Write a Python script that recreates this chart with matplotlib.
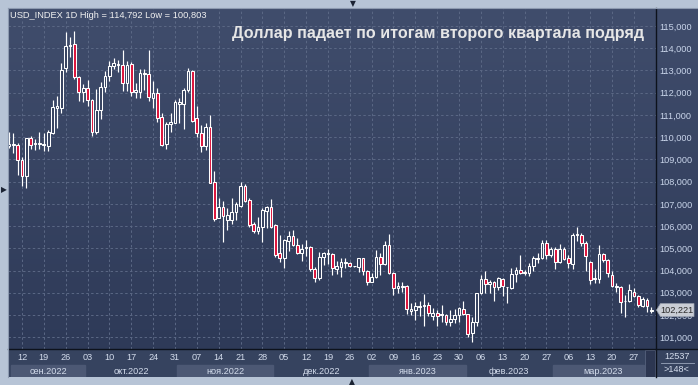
"""USD index daily candles, Sep 2022 - Mar 2023, terminal-style dark chart."""

import matplotlib

matplotlib.use("Agg")
import matplotlib.pyplot as plt
from matplotlib.lines import Line2D
from matplotlib.patches import Polygon, Rectangle
import numpy as np
import pandas as pd

plt.rcParams["font.family"] = ["Liberation Sans", "DejaVu Sans"]

# trading days shown on the chart (148 bars, ">148<" in the corner)
DATES = pd.bdate_range("2022-09-07", "2023-03-31")

OPEN = [109.62, 109.63, 109.66, 108.97, 108.27, 109.95, 109.70, 109.70, 109.64, 109.62,
        110.20, 111.33, 111.30, 113.10, 114.11, 114.19, 112.72, 112.02, 112.20, 111.67,
        110.22, 111.22, 112.27, 112.77, 113.22, 113.25, 113.25, 112.42, 113.28, 112.05,
        112.02, 112.87, 112.83, 111.75, 111.97, 110.89, 109.68, 110.58, 110.62, 111.51,
        111.51, 112.11, 112.98, 110.88, 110.17, 109.62, 110.47, 107.97, 106.38, 106.84,
        106.27, 106.27, 106.65, 106.92, 107.82, 107.17, 106.08, 105.79, 105.97, 106.69,
        106.84, 106.05, 104.77, 104.55, 105.33, 105.57, 105.15, 104.77, 105.00, 105.07,
        104.07, 103.65, 104.62, 104.73, 104.73, 104.05, 104.17, 104.32, 104.32, 104.20,
        104.17, 104.55, 103.99, 103.50, 103.72, 104.62, 104.28, 105.15, 103.87, 103.20,
        103.27, 103.30, 102.18, 102.21, 102.37, 102.40, 102.45, 101.97, 102.07, 102.04,
        102.00, 101.70, 101.80, 102.00, 102.25, 102.03, 101.17, 101.70, 103.00, 103.60,
        103.38, 103.47, 103.27, 103.60, 103.26, 103.20, 103.84, 104.02, 103.90, 103.87,
        104.20, 104.52, 104.55, 105.25, 104.70, 104.95, 104.40, 104.95, 104.55, 104.29,
        105.60, 105.60, 105.25, 104.40, 103.60, 103.60, 104.74, 104.47, 103.80, 103.27,
        103.24, 102.62, 102.64, 103.05, 102.85, 102.42, 102.67, 102.20]
HIGH = [110.25, 110.20, 109.72, 109.12, 109.97, 110.07, 109.92, 110.25, 110.17, 110.32,
        111.67, 111.87, 113.32, 114.71, 114.49, 114.79, 112.77, 112.39, 112.57, 111.72,
        112.17, 112.47, 112.99, 113.44, 113.56, 113.45, 113.90, 113.43, 113.37, 112.42,
        113.07, 113.07, 113.90, 112.53, 112.20, 111.07, 110.70, 111.07, 111.67, 111.75,
        112.20, 113.13, 113.02, 111.40, 110.55, 110.62, 111.00, 108.48, 107.25, 107.13,
        106.80, 107.25, 107.10, 108.00, 107.88, 107.25, 106.20, 106.42, 106.80, 106.92,
        107.22, 106.08, 105.60, 105.42, 105.78, 105.82, 105.48, 105.18, 105.37, 105.12,
        104.17, 104.82, 104.82, 104.97, 104.77, 104.43, 104.58, 104.55, 104.37, 104.22,
        104.56, 104.57, 104.02, 103.87, 104.92, 104.77, 105.33, 105.63, 103.92, 103.47,
        103.50, 103.35, 102.52, 102.60, 102.63, 102.94, 102.57, 102.30, 102.22, 102.45,
        102.04, 102.22, 102.25, 102.35, 102.64, 102.04, 101.92, 103.00, 103.80, 103.98,
        103.57, 103.53, 103.72, 103.65, 103.28, 104.10, 104.14, 104.70, 104.02, 104.32,
        104.65, 104.77, 105.37, 105.37, 105.07, 105.04, 105.19, 105.04, 104.70, 105.67,
        105.94, 105.67, 105.34, 104.44, 104.05, 105.15, 104.80, 104.50, 103.99, 103.42,
        103.30, 102.90, 103.39, 103.23, 102.88, 102.79, 102.75, 102.35]
LOW = [109.53, 109.27, 108.30, 107.81, 107.70, 109.47, 109.42, 109.47, 109.36, 109.36,
       110.14, 110.41, 111.07, 112.92, 113.59, 112.61, 111.64, 111.57, 111.42, 110.07,
       110.14, 110.82, 112.02, 112.54, 113.07, 112.95, 112.08, 112.08, 111.87, 111.78,
       111.78, 112.12, 111.63, 111.33, 110.70, 109.62, 109.47, 110.25, 110.62, 110.62,
       110.37, 112.02, 110.70, 110.02, 109.35, 109.42, 107.92, 106.23, 106.35, 105.30,
       105.82, 106.08, 106.27, 106.87, 107.07, 105.97, 105.67, 105.63, 105.30, 105.90,
       105.93, 104.62, 104.40, 104.10, 104.88, 105.10, 104.73, 104.43, 104.67, 103.98,
       103.47, 103.57, 104.25, 104.28, 103.80, 103.83, 103.72, 104.10, 104.17, 104.18,
       103.92, 103.80, 103.35, 103.47, 103.65, 103.80, 104.25, 103.83, 102.90, 103.00,
       103.05, 102.03, 102.00, 101.77, 101.97, 101.52, 101.97, 101.77, 101.52, 101.70,
       101.55, 101.50, 101.62, 101.70, 102.00, 101.00, 100.80, 101.50, 102.94, 103.00,
       103.00, 102.64, 103.12, 102.85, 102.53, 103.15, 103.50, 103.84, 103.80, 103.75,
       103.98, 104.32, 104.50, 104.50, 104.59, 104.05, 104.32, 104.47, 104.10, 104.05,
       105.34, 105.10, 103.99, 103.39, 103.42, 103.42, 104.40, 103.69, 103.27, 103.05,
       102.07, 101.92, 102.60, 102.79, 102.35, 102.35, 102.15, 102.07]
CLOSE = [109.68, 109.68, 108.97, 108.27, 109.95, 109.65, 109.74, 109.72, 109.68, 110.22,
         111.37, 111.40, 113.02, 114.11, 114.16, 112.72, 112.02, 112.20, 111.67, 110.22,
         111.22, 112.27, 112.77, 113.22, 113.32, 113.30, 112.42, 113.25, 112.05, 112.12,
         112.87, 112.82, 111.82, 111.97, 110.88, 109.65, 110.59, 110.67, 111.57, 111.57,
         112.14, 112.98, 110.74, 110.17, 109.62, 110.47, 107.95, 106.30, 106.84, 106.47,
         106.50, 106.62, 106.98, 107.82, 107.13, 106.05, 105.79, 105.97, 106.72, 106.87,
         105.97, 104.70, 104.55, 105.37, 105.57, 105.15, 104.77, 104.97, 105.07, 104.07,
         103.65, 104.62, 104.77, 104.77, 104.10, 104.22, 104.37, 104.37, 104.20, 104.21,
         104.55, 103.99, 103.50, 103.72, 104.62, 104.28, 105.15, 103.87, 103.20, 103.30,
         103.30, 102.27, 102.27, 102.40, 102.42, 102.45, 102.07, 102.07, 101.97, 101.98,
         101.70, 101.80, 102.00, 102.30, 102.03, 101.13, 101.70, 103.00, 103.60, 103.38,
         103.50, 103.24, 103.65, 103.30, 103.28, 103.84, 104.02, 103.87, 103.92, 104.20,
         104.58, 104.58, 105.22, 104.70, 104.95, 104.40, 104.95, 104.50, 104.32, 105.60,
         105.64, 105.25, 104.65, 103.57, 103.65, 104.74, 104.47, 103.90, 103.32, 103.30,
         102.60, 102.64, 103.12, 102.85, 102.45, 102.70, 102.40, 102.221]

PRICE_TICKS = list(range(101, 116))
MONTH_NAMES = {9: "сен", 10: "окт", 11: "ноя", 12: "дек", 1: "янв", 2: "фев", 3: "мар"}
TITLE = "Доллар падает по итогам второго квартала подряд"
INFO = "USD_INDEX 1D High = 114,792 Low = 100,803"
LAST = 102.221
CORNER_TOP, CORNER_BOTTOM = "12537", ">148<"

W, H = 698, 385
PL, PR, PT, PB, BB = 8, 655.5, 8, 349, 377  # pixel frame of the chart parts
XMIN, XMAX = -0.2, 147.95
YMIN, YMAX = 100.47, 115.81

FRAME = "#b7c4d6"
RED = "#dc143c"
GRID = "#5b6885"
TXT = "#d3dcec"


def fmt(v):
    return f"{v:.3f}".replace(".", ",")


def fbox(l, t, r, b):
    return [l / W, 1 - b / H, (r - l) / W, (b - t) / H]


fig = plt.figure(figsize=(W / 100, H / 100), dpi=100, facecolor=FRAME)

# gradient background behind plot + price scale
bg = fig.add_axes(fbox(PL, PT, W, PB))
grad = np.linspace(0, 1, 256)[:, None]
top, bot = np.array([0x40, 0x4d, 0x6c]) / 255, np.array([0x2e, 0x3a, 0x58]) / 255
bg.imshow(top + (bot - top) * grad[..., None], aspect="auto", extent=(0, 1, 0, 1))
bg.set_axis_off()

ax = fig.add_axes(fbox(PL, PT, PR, PB))
ax.patch.set_alpha(0)
ax.set_xlim(XMIN, XMAX)
ax.set_ylim(YMIN, YMAX)

x = np.arange(len(OPEN))
o, h, l, c = map(np.asarray, (OPEN, HIGH, LOW, CLOSE))
mondays = [i for i, d in enumerate(DATES) if d.weekday() == 0]

for p in PRICE_TICKS:
    ax.axhline(p, color=GRID, lw=0.7, ls=(0, (2.5, 2.5)), zorder=1)
for i in mondays:
    ax.axvline(i, color=GRID, lw=0.7, ls=(0, (2.5, 2.5)), zorder=1)

up = c >= o
body_lo = np.minimum(o, c)
body_h = np.maximum(np.abs(c - o), 0.02)
ax.vlines(x, l, h, color="white", lw=0.85, zorder=2)
ax.bar(x, body_h, bottom=body_lo, width=0.62,
       color=np.where(up, "#36425f", RED), edgecolor="white", linewidth=0.75, zorder=3)

ax.yaxis.tick_right()
ax.set_yticks(PRICE_TICKS)
ax.set_yticklabels([fmt(p) for p in PRICE_TICKS])
ax.tick_params(axis="y", length=0, pad=3, labelsize=6.6, labelcolor="#c9d5ea")
ax.set_xticks([])
for s in ax.spines.values():
    s.set_visible(False)

ax.text(0.003, 0.978, INFO, transform=ax.transAxes, fontsize=6.7, color="#f0f0f0",
        va="center", ha="left")
ax.text(0.983, 0.925, TITLE, transform=ax.transAxes, fontsize=11.6, color="#e6e6e6",
        fontweight="bold", va="center", ha="right")

# last-price marker on the scale (covers most of the 102,000 label, as in the terminal)
ya = 1 - (PB - (LAST - YMIN) / (YMAX - YMIN) * (PB - PT)) / H
bh = 6.5 / H
xl, xr = (PR + 1) / W, 694 / W
fig.add_artist(Polygon([(xl, ya), (xl + 4 / W, ya + bh), (xr, ya + bh), (xr, ya - bh),
                        (xl + 4 / W, ya - bh)], closed=True, transform=fig.transFigure,
                       facecolor="#c9cdd5", edgecolor="#9aa2b0", lw=0.5, zorder=10))
fig.text((xl + xr) / 2 + 2 / W, ya, fmt(LAST), fontsize=6.6, color="#2a2a2a",
         ha="center", va="center", zorder=11)

# time scale: day row + month row
bax = fig.add_axes(fbox(PL, PB, PR, BB))
bax.set_facecolor("#36435f")
bax.set_xlim(XMIN, XMAX)
bax.set_ylim(28, 0)
bax.set_axis_off()
bax.add_patch(Rectangle((XMIN, 0), XMAX - XMIN, 28, color="#36435f", zorder=0))

months = pd.Series(np.arange(len(DATES)), index=DATES).groupby([DATES.year, DATES.month])
for k, ((yr, mo), idx) in enumerate(months):
    s, e = max(idx.min() - 0.5, 0.6), min(idx.max() + 0.5, 145.3)
    if k % 2 == 0:
        bax.add_patch(Rectangle((s, 16), e - s, 12, color="#4c5874", zorder=1))
    cx = (max(idx.min() - 0.5, 0.6) + idx.max() + 0.5) / 2
    bax.text(cx, 22.3, f"{MONTH_NAMES[mo]}.{yr}", fontsize=6.6, color=TXT,
             ha="center", va="center", zorder=2)
for i in mondays:
    bax.text(i, 9, f"{DATES[i].day:02d}", fontsize=6.6, color=TXT,
             ha="center", va="center")
bax.add_patch(Rectangle((145.6, 1), 2.3, 27, facecolor="#2c3651",
                        edgecolor="#56627d", lw=0.6, zorder=3))

# corner box
cax = fig.add_axes(fbox(PR, PB, W, BB))
cax.set_facecolor("#36435f")
cax.set_axis_off()
cax.add_patch(Rectangle((0, 0), 1, 1, color="#36435f", transform=cax.transAxes))
cax.text(0.5, 0.72, CORNER_TOP, fontsize=6.6, color=TXT, ha="center", va="center",
         transform=cax.transAxes)
cax.text(0.5, 0.25, CORNER_BOTTOM, fontsize=6.6, color=TXT, ha="center", va="center",
         transform=cax.transAxes)
cax.add_artist(Line2D([0.12, 0.9], [0.5, 0.5], color="#9aa6bc", lw=0.6,
                      transform=cax.transAxes))

# separators
for xs, ys in [((PL / W, 1), (1 - PB / H,) * 2),
               ((PR / W,) * 2, (1 - PT / H, 1 - BB / H))]:
    fig.add_artist(Line2D(xs, ys, color="#0d121c", lw=1.0, transform=fig.transFigure))
fig.add_artist(Line2D((PL / W, 1), (1 - PT / H,) * 2, color="#8d9ab0", lw=0.8,
                      transform=fig.transFigure))
fig.add_artist(Line2D((PL / W,) * 2, (1 - PT / H, 1 - BB / H), color="#8d9ab0",
                      lw=0.8, transform=fig.transFigure))

# little scroll arrows in the frame
for tx, ty, g in [(353, 3.5, "\u25bc"), (352, 381.5, "\u25b2"), (3.5, 190, "\u25b6")]:
    fig.text(tx / W, 1 - ty / H, g, fontsize=5.5, color="#1b2333", ha="center",
             va="center", family="DejaVu Sans")

fig.savefig("out.png", dpi=100, facecolor=FRAME)
